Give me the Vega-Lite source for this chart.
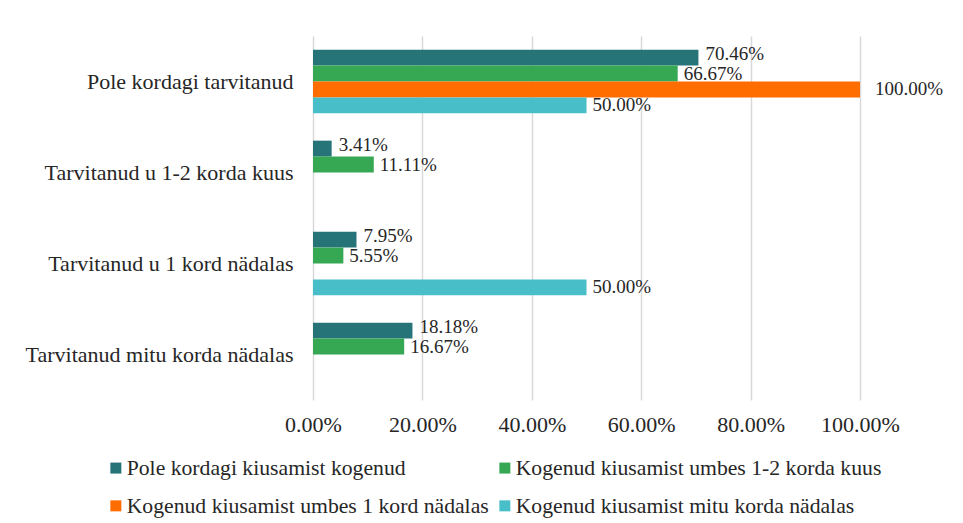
{
  "$schema": "https://vega.github.io/schema/vega-lite/v6.json",
  "autosize": {"type": "none"},
  "padding": {"left": 313, "top": 36, "right": 103, "bottom": 123},
  "width": 547,
  "height": 364,
  "background": "white",
  "config": {
    "view": {"stroke": null},
    "font": "Liberation Serif",
    "axis": {"labelFont": "Liberation Serif", "labelColor": "#262626"},
    "legend": {"labelFont": "Liberation Serif", "labelColor": "#262626"}
  },
  "data": {
    "values": [
      {"cat": "Pole kordagi tarvitanud", "series": "Pole kordagi kiusamist kogenud", "value": 0.7046},
      {"cat": "Pole kordagi tarvitanud", "series": "Kogenud kiusamist umbes 1-2 korda kuus", "value": 0.6667},
      {"cat": "Pole kordagi tarvitanud", "series": "Kogenud kiusamist umbes 1 kord nädalas", "value": 1.0},
      {"cat": "Pole kordagi tarvitanud", "series": "Kogenud kiusamist mitu korda nädalas", "value": 0.5},
      {"cat": "Tarvitanud u 1-2 korda kuus", "series": "Pole kordagi kiusamist kogenud", "value": 0.0341},
      {"cat": "Tarvitanud u 1-2 korda kuus", "series": "Kogenud kiusamist umbes 1-2 korda kuus", "value": 0.1111},
      {"cat": "Tarvitanud u 1-2 korda kuus", "series": "Kogenud kiusamist umbes 1 kord nädalas", "value": 0},
      {"cat": "Tarvitanud u 1-2 korda kuus", "series": "Kogenud kiusamist mitu korda nädalas", "value": 0},
      {"cat": "Tarvitanud u 1 kord nädalas", "series": "Pole kordagi kiusamist kogenud", "value": 0.0795},
      {"cat": "Tarvitanud u 1 kord nädalas", "series": "Kogenud kiusamist umbes 1-2 korda kuus", "value": 0.0555},
      {"cat": "Tarvitanud u 1 kord nädalas", "series": "Kogenud kiusamist umbes 1 kord nädalas", "value": 0},
      {"cat": "Tarvitanud u 1 kord nädalas", "series": "Kogenud kiusamist mitu korda nädalas", "value": 0.5},
      {"cat": "Tarvitanud mitu korda nädalas", "series": "Pole kordagi kiusamist kogenud", "value": 0.1818},
      {"cat": "Tarvitanud mitu korda nädalas", "series": "Kogenud kiusamist umbes 1-2 korda kuus", "value": 0.1667},
      {"cat": "Tarvitanud mitu korda nädalas", "series": "Kogenud kiusamist umbes 1 kord nädalas", "value": 0},
      {"cat": "Tarvitanud mitu korda nädalas", "series": "Kogenud kiusamist mitu korda nädalas", "value": 0}
    ]
  },
  "encoding": {
    "y": {
      "field": "cat", "type": "nominal", "sort": null,
      "scale": {"paddingInner": 0.3, "paddingOuter": 0.15},
      "axis": {"title": null, "ticks": false, "domain": false, "grid": false, "labelPadding": 20, "labelLimit": 0, "labelFontSize": 22}
    },
    "yOffset": {
      "field": "series", "type": "nominal",
      "scale": {"domain": ["Pole kordagi kiusamist kogenud", "Kogenud kiusamist umbes 1-2 korda kuus", "Kogenud kiusamist umbes 1 kord nädalas", "Kogenud kiusamist mitu korda nädalas"], "paddingInner": 0, "paddingOuter": 0}
    },
    "x": {
      "field": "value", "type": "quantitative",
      "scale": {"domain": [0, 1], "nice": false},
      "axis": {"title": null, "format": ".2%", "values": [0, 0.2, 0.4, 0.6, 0.8, 1.0], "ticks": false, "domain": false, "grid": true, "gridColor": "#d9d9d9", "gridWidth": 1.5, "labelPadding": 14, "labelFontSize": 22, "labelFlush": false, "labelOverlap": false, "labelBound": false}
    }
  },
  "layer": [
    {
      "mark": {"type": "bar"},
      "encoding": {
        "color": {
          "field": "series", "type": "nominal",
          "scale": {"domain": ["Pole kordagi kiusamist kogenud", "Kogenud kiusamist umbes 1-2 korda kuus", "Kogenud kiusamist umbes 1 kord nädalas", "Kogenud kiusamist mitu korda nädalas"], "range": ["#267378", "#36a854", "#ff6c00", "#47bec8"]},
          "legend": {"title": null, "orient": "none", "legendX": -208, "legendY": 421, "columns": 2, "direction": "horizontal", "symbolType": "square", "symbolSize": 121, "symbolStrokeWidth": 0, "rowPadding": 15, "columnPadding": 5, "labelOffset": 0, "labelLimit": 0, "labelFontSize": 21.7}
        }
      }
    },
    {
      "transform": [{"filter": "datum.value > 0 && datum.series === 'Pole kordagi kiusamist kogenud'"}],
      "mark": {"type": "text", "align": "left", "baseline": "middle", "dx": 7, "dy": -4, "fontSize": 19, "font": "Liberation Serif", "color": "#262626"},
      "encoding": {
        "text": {"field": "value", "type": "quantitative", "format": ".2%"}
      }
    },
    {
      "transform": [{"filter": "datum.value > 0 && datum.value < 1 && datum.series !== 'Pole kordagi kiusamist kogenud'"}],
      "mark": {"type": "text", "align": "left", "baseline": "middle", "dx": 6, "dy": 0, "fontSize": 19, "font": "Liberation Serif", "color": "#262626"},
      "encoding": {
        "text": {"field": "value", "type": "quantitative", "format": ".2%"}
      }
    },
    {
      "transform": [{"filter": "datum.value >= 1"}],
      "mark": {"type": "text", "align": "left", "baseline": "middle", "dx": 15, "dy": 0, "fontSize": 19, "font": "Liberation Serif", "color": "#262626"},
      "encoding": {
        "text": {"field": "value", "type": "quantitative", "format": ".2%"}
      }
    }
  ]
}
